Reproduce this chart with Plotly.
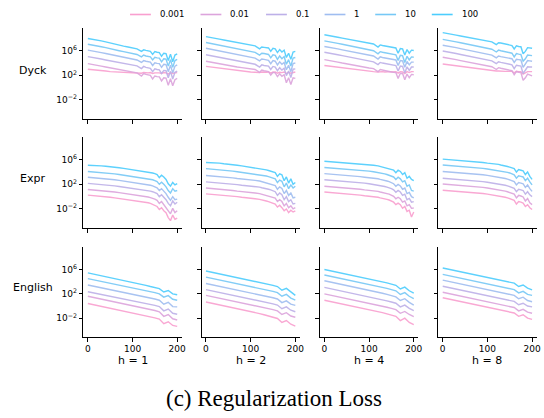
import plotly.graph_objects as go

# ---------------- data ----------------
COEF_LABELS = ["0.001", "0.01", "0.1", "1", "10", "100"]
TASKS = ["Dyck", "Expr", "English"]
HEADS = ["h = 1", "h = 2", "h = 4", "h = 8"]

STEPS_FINE = [0, 10, 20, 30, 40, 50, 60, 70, 80, 90, 100, 110, 120, 125, 130, 135, 140,
              145, 150, 155, 160, 165, 170, 175, 180, 185, 190, 195, 200]
STEPS_ENG = [0, 10, 20, 30, 40, 50, 60, 70, 80, 90, 100, 110, 120, 130, 140, 150, 160,
             170, 180, 190, 200]

Y_TICK_VALS = [1e-2, 1e2, 1e6]
Y_TICK_TEXT = ["10<sup>\u22122</sup>", "10<sup>2</sup>", "10<sup>6</sup>"]
X_TICK_VALS = [0, 100, 200]
X_TICK_TEXT = ["0", "100", "200"]

# log10 of regularization loss, series order: 0.001, 0.01, 0.1, 1, 10, 100
dyck_h1 = [
    [3.0, 2.95, 2.85, 2.75, 2.7, 2.6, 2.55, 2.5, 2.45, 2.45, 2.4, 2.4, 2.35, 2.45, 2.4, 2.4, 2.45, 2.3, 2.4, 2.45, 2.4, 2.3, 2.45, 2.4, 2.2, 2.45, 2.3, 2.4, 2.45],
    [3.9, 3.8, 3.65, 3.5, 3.35, 3.2, 3.05, 2.9, 2.8, 2.65, 2.55, 2.4, 1.9, 2.3, 2.15, 2.05, 2.0, 1.4, 1.9, 1.8, 1.75, 1.1, 1.6, 1.55, 0.4, 1.45, 0.3, 1.3, 1.5],
    [5.05, 4.95, 4.8, 4.65, 4.5, 4.35, 4.2, 4.05, 3.9, 3.8, 3.7, 3.55, 3.1, 3.45, 3.3, 3.2, 3.15, 2.6, 3.05, 2.95, 2.9, 2.3, 2.8, 2.75, 1.6, 2.65, 1.4, 2.5, 2.7],
    [6.1, 6.0, 5.85, 5.7, 5.55, 5.4, 5.25, 5.1, 4.95, 4.8, 4.65, 4.5, 4.1, 4.4, 4.3, 4.2, 4.15, 3.6, 4.05, 3.95, 3.9, 3.3, 3.8, 3.75, 2.6, 3.65, 2.4, 3.5, 3.7],
    [7.05, 6.95, 6.8, 6.65, 6.5, 6.3, 6.15, 6.0, 5.85, 5.7, 5.5, 5.4, 5.0, 5.3, 5.15, 5.05, 5.0, 4.5, 4.95, 4.85, 4.8, 4.2, 4.7, 4.65, 3.5, 4.55, 3.3, 4.4, 4.6],
    [8.0, 7.9, 7.75, 7.6, 7.45, 7.25, 7.1, 6.95, 6.75, 6.6, 6.4, 6.3, 5.9, 6.15, 6.05, 5.95, 5.9, 5.4, 5.85, 5.75, 5.7, 5.1, 5.6, 5.55, 4.4, 5.45, 4.2, 5.3, 5.5],
]
dyck_h2 = [
    [3.45, 3.35, 3.25, 3.15, 3.05, 2.95, 2.85, 2.75, 2.65, 2.6, 2.55, 2.5, 2.45, 2.55, 2.5, 2.5, 2.55, 2.4, 2.5, 2.55, 2.35, 2.5, 2.45, 2.55, 2.3, 2.5, 2.35, 2.5, 2.55],
    [4.3, 4.15, 4.0, 3.85, 3.7, 3.55, 3.45, 3.35, 3.25, 3.15, 3.05, 2.95, 2.5, 2.85, 2.75, 2.65, 2.6, 2.05, 2.5, 2.4, 1.8, 2.25, 1.85, 2.1, 0.8, 1.6, 0.5, 1.6, 1.5],
    [5.35, 5.2, 5.05, 4.9, 4.75, 4.6, 4.45, 4.3, 4.15, 4.0, 3.9, 3.8, 3.35, 3.7, 3.6, 3.55, 3.5, 2.95, 3.45, 3.35, 2.75, 3.25, 2.85, 3.15, 1.95, 2.7, 1.65, 3.0, 3.05],
    [6.4, 6.25, 6.1, 5.95, 5.8, 5.65, 5.5, 5.35, 5.2, 5.05, 4.95, 4.8, 4.35, 4.65, 4.6, 4.5, 4.45, 3.9, 4.4, 4.3, 3.7, 4.2, 3.8, 4.1, 2.9, 3.65, 2.6, 3.9, 4.0],
    [7.35, 7.2, 7.05, 6.9, 6.75, 6.6, 6.45, 6.3, 6.15, 6.0, 5.85, 5.75, 5.3, 5.6, 5.55, 5.45, 5.4, 4.85, 5.35, 5.25, 4.6, 5.15, 4.7, 5.05, 3.8, 4.55, 3.5, 4.8, 4.9],
    [8.3, 8.2, 8.05, 7.9, 7.75, 7.6, 7.45, 7.3, 7.15, 7.0, 6.9, 6.8, 6.3, 6.6, 6.55, 6.5, 6.45, 5.9, 6.4, 6.3, 5.7, 6.2, 5.8, 6.1, 4.9, 5.6, 4.6, 5.8, 5.9],
]
dyck_h4 = [
    [3.6, 3.5, 3.4, 3.3, 3.2, 3.1, 3.0, 2.9, 2.8, 2.7, 2.65, 2.6, 2.55, 2.6, 2.6, 2.55, 2.6, 2.55, 2.6, 2.55, 2.6, 2.35, 2.6, 2.55, 2.3, 2.6, 2.45, 2.6, 2.6],
    [4.55, 4.45, 4.3, 4.15, 4.0, 3.85, 3.7, 3.55, 3.45, 3.3, 3.2, 3.1, 2.6, 2.95, 2.85, 2.8, 2.7, 2.6, 2.55, 2.5, 2.45, 1.5, 2.35, 2.3, 1.3, 2.2, 1.6, 2.15, 2.1],
    [5.75, 5.65, 5.5, 5.35, 5.2, 5.05, 4.9, 4.75, 4.6, 4.45, 4.35, 4.2, 3.75, 4.1, 4.0, 3.95, 3.85, 3.75, 3.7, 3.65, 3.6, 2.7, 3.5, 3.45, 2.4, 3.4, 2.8, 3.35, 3.35],
    [6.7, 6.6, 6.45, 6.3, 6.15, 6.0, 5.85, 5.7, 5.55, 5.4, 5.3, 5.15, 4.65, 5.0, 4.9, 4.85, 4.75, 4.65, 4.6, 4.55, 4.5, 3.6, 4.4, 4.35, 3.3, 4.25, 3.7, 4.15, 4.15],
    [7.6, 7.5, 7.35, 7.2, 7.05, 6.9, 6.75, 6.6, 6.45, 6.3, 6.15, 6.0, 5.5, 5.85, 5.75, 5.7, 5.6, 5.5, 5.45, 5.4, 5.35, 4.4, 5.25, 5.2, 4.1, 5.1, 4.5, 5.0, 4.95],
    [8.6, 8.5, 8.35, 8.2, 8.05, 7.9, 7.75, 7.6, 7.45, 7.35, 7.25, 7.1, 6.6, 6.95, 6.85, 6.8, 6.7, 6.6, 6.55, 6.5, 6.45, 5.6, 6.35, 6.3, 5.3, 6.2, 5.6, 6.1, 6.05],
]
dyck_h8 = [
    [3.85, 3.75, 3.65, 3.55, 3.45, 3.35, 3.25, 3.1, 3.0, 2.9, 2.8, 2.75, 2.7, 2.7, 2.65, 2.7, 2.65, 2.65, 2.6, 2.65, 2.4, 2.65, 2.6, 2.6, 2.2, 2.4, 2.6, 2.6, 2.6],
    [4.95, 4.85, 4.7, 4.55, 4.4, 4.25, 4.1, 3.95, 3.8, 3.7, 3.55, 3.4, 2.95, 3.25, 3.15, 3.05, 3.0, 2.9, 2.8, 2.75, 2.1, 2.6, 2.5, 2.45, 1.2, 1.6, 2.2, 2.0, 1.9],
    [5.95, 5.85, 5.7, 5.55, 5.4, 5.25, 5.1, 4.95, 4.8, 4.65, 4.5, 4.35, 3.9, 4.2, 4.1, 4.05, 3.95, 3.85, 3.8, 3.7, 3.1, 3.65, 3.55, 3.5, 2.3, 2.8, 3.4, 3.35, 3.35],
    [6.9, 6.8, 6.65, 6.5, 6.35, 6.2, 6.05, 5.9, 5.75, 5.6, 5.45, 5.3, 4.85, 5.15, 5.05, 5.0, 4.9, 4.8, 4.75, 4.7, 4.1, 4.6, 4.55, 4.5, 3.3, 3.8, 4.4, 4.35, 4.3],
    [7.85, 7.75, 7.6, 7.45, 7.3, 7.15, 7.0, 6.85, 6.7, 6.55, 6.4, 6.25, 5.8, 6.1, 6.0, 5.9, 5.85, 5.75, 5.7, 5.6, 5.0, 5.55, 5.45, 5.4, 4.3, 4.7, 5.3, 5.25, 5.2],
    [8.95, 8.85, 8.7, 8.55, 8.4, 8.25, 8.1, 7.95, 7.8, 7.7, 7.6, 7.45, 7.0, 7.3, 7.25, 7.15, 7.1, 7.0, 6.95, 6.85, 6.3, 6.8, 6.7, 6.65, 5.5, 5.9, 6.5, 6.45, 6.4],
]
expr_h1 = [
    [0.25, 0.2, 0.15, 0.05, 0.0, -0.1, -0.2, -0.3, -0.4, -0.5, -0.55, -0.65, -0.75, -0.85, -0.9, -1.0, -1.1, -1.25, -1.4, -1.6, -2.1, -1.8, -2.3, -2.6, -3.4, -3.9, -3.0, -3.7, -3.5],
    [1.15, 1.1, 1.05, 1.0, 0.9, 0.85, 0.75, 0.65, 0.55, 0.5, 0.4, 0.3, 0.2, 0.1, 0.05, -0.05, -0.15, -0.25, -0.4, -0.6, -1.1, -0.8, -1.3, -1.6, -2.3, -2.8, -1.9, -2.6, -2.3],
    [2.15, 2.1, 2.05, 2.0, 1.9, 1.85, 1.75, 1.65, 1.55, 1.5, 1.4, 1.3, 1.2, 1.15, 1.05, 1.0, 0.9, 0.8, 0.65, 0.5, 0.0, 0.3, -0.1, -0.5, -1.1, -1.5, -0.7, -1.2, -0.9],
    [3.15, 3.1, 3.05, 3.0, 2.9, 2.85, 2.75, 2.65, 2.55, 2.45, 2.35, 2.25, 2.15, 2.1, 2.0, 1.95, 1.85, 1.75, 1.6, 1.45, 1.0, 1.3, 0.9, 0.5, -0.1, -0.6, 0.0, -0.5, -0.4],
    [4.1, 4.05, 4.0, 3.95, 3.9, 3.8, 3.7, 3.6, 3.5, 3.4, 3.3, 3.2, 3.1, 3.05, 3.0, 2.9, 2.85, 2.75, 2.6, 2.45, 2.0, 2.35, 2.0, 1.6, 1.0, 0.6, 1.3, 0.9, 1.0],
    [5.1, 5.1, 5.05, 5.0, 4.95, 4.9, 4.8, 4.7, 4.6, 4.5, 4.4, 4.3, 4.2, 4.15, 4.1, 4.05, 3.95, 3.85, 3.75, 3.6, 3.1, 3.5, 3.2, 2.8, 2.1, 1.7, 2.3, 1.9, 2.1],
]
expr_h2 = [
    [0.45, 0.4, 0.35, 0.3, 0.2, 0.15, 0.05, 0.0, -0.1, -0.15, -0.25, -0.35, -0.45, -0.5, -0.6, -0.7, -0.8, -0.9, -1.0, -1.2, -1.7, -1.4, -1.8, -2.3, -2.0, -2.6, -2.2, -2.5, -2.3],
    [1.4, 1.35, 1.3, 1.25, 1.15, 1.1, 1.0, 0.9, 0.85, 0.75, 0.7, 0.6, 0.5, 0.4, 0.35, 0.25, 0.15, 0.05, -0.1, -0.25, -0.8, -0.5, -0.8, -1.5, -1.1, -1.8, -1.5, -2.0, -1.8],
    [2.4, 2.35, 2.3, 2.25, 2.15, 2.1, 2.0, 1.95, 1.85, 1.8, 1.75, 1.65, 1.55, 1.45, 1.4, 1.3, 1.2, 1.1, 0.95, 0.8, 0.2, 0.6, 0.3, -0.5, 0.0, -0.8, -0.5, -1.2, -1.1],
    [3.45, 3.4, 3.35, 3.3, 3.2, 3.15, 3.05, 2.95, 2.9, 2.8, 2.75, 2.65, 2.55, 2.45, 2.4, 2.3, 2.2, 2.1, 1.95, 1.8, 1.2, 1.6, 1.35, 0.5, 1.0, 0.2, 0.6, -0.2, -0.1],
    [4.55, 4.5, 4.45, 4.4, 4.3, 4.25, 4.15, 4.05, 3.95, 3.9, 3.8, 3.7, 3.6, 3.5, 3.45, 3.35, 3.25, 3.15, 3.05, 2.9, 2.3, 2.7, 2.5, 1.6, 2.2, 1.3, 1.9, 1.4, 1.7],
    [5.55, 5.55, 5.5, 5.45, 5.35, 5.3, 5.2, 5.1, 5.0, 4.9, 4.8, 4.7, 4.6, 4.5, 4.45, 4.35, 4.25, 4.15, 4.05, 3.9, 3.3, 3.7, 3.55, 2.6, 3.2, 2.2, 2.9, 2.0, 2.3],
]
expr_h4 = [
    [0.75, 0.7, 0.65, 0.6, 0.5, 0.45, 0.4, 0.3, 0.25, 0.15, 0.1, 0.0, -0.1, -0.2, -0.25, -0.35, -0.45, -0.55, -0.7, -0.9, -1.3, -1.05, -1.3, -1.9, -1.6, -2.4, -2.2, -3.3, -2.5],
    [1.7, 1.65, 1.6, 1.55, 1.45, 1.4, 1.35, 1.25, 1.2, 1.1, 1.05, 0.95, 0.85, 0.75, 0.7, 0.6, 0.5, 0.4, 0.25, 0.05, -0.35, -0.1, -0.35, -0.9, -0.7, -1.5, -1.3, -1.9, -1.85],
    [2.75, 2.7, 2.65, 2.6, 2.55, 2.5, 2.4, 2.35, 2.25, 2.2, 2.1, 2.0, 1.9, 1.85, 1.75, 1.65, 1.55, 1.45, 1.3, 1.1, 0.7, 1.0, 0.75, 0.2, 0.4, -0.5, -0.3, -0.9, -0.8],
    [3.75, 3.7, 3.65, 3.6, 3.5, 3.45, 3.4, 3.3, 3.25, 3.15, 3.1, 3.0, 2.9, 2.8, 2.75, 2.65, 2.55, 2.45, 2.3, 2.1, 1.7, 2.0, 1.75, 1.2, 1.4, 0.5, 0.7, 0.0, -0.2],
    [4.75, 4.7, 4.65, 4.6, 4.55, 4.5, 4.4, 4.35, 4.3, 4.2, 4.15, 4.05, 3.95, 3.85, 3.8, 3.7, 3.6, 3.5, 3.4, 3.2, 2.8, 3.15, 2.9, 2.4, 2.6, 1.7, 1.9, 1.0, 0.9],
    [5.75, 5.7, 5.65, 5.6, 5.55, 5.5, 5.4, 5.35, 5.3, 5.25, 5.2, 5.1, 5.0, 4.9, 4.85, 4.75, 4.7, 4.6, 4.5, 4.3, 3.9, 4.3, 4.1, 3.6, 3.9, 3.0, 3.3, 2.8, 2.6],
]
expr_h8 = [
    [1.05, 1.0, 0.95, 0.9, 0.85, 0.8, 0.7, 0.65, 0.55, 0.5, 0.4, 0.3, 0.2, 0.15, 0.05, 0.0, -0.1, -0.2, -0.3, -0.45, -0.6, -1.2, -0.8, -0.9, -1.05, -1.6, -1.3, -1.8, -2.1],
    [2.05, 2.0, 1.95, 1.9, 1.85, 1.8, 1.7, 1.65, 1.55, 1.5, 1.4, 1.3, 1.2, 1.15, 1.05, 1.0, 0.9, 0.8, 0.7, 0.55, 0.4, -0.2, 0.2, 0.1, -0.05, -0.7, -0.3, -1.0, -1.3],
    [3.0, 2.95, 2.9, 2.85, 2.8, 2.75, 2.65, 2.6, 2.5, 2.45, 2.35, 2.25, 2.15, 2.1, 2.0, 1.95, 1.85, 1.75, 1.65, 1.5, 1.35, 0.8, 1.2, 1.1, 1.0, 0.4, 0.8, 0.3, 0.0],
    [4.1, 4.05, 4.0, 3.95, 3.9, 3.85, 3.75, 3.7, 3.6, 3.55, 3.45, 3.35, 3.25, 3.2, 3.1, 3.05, 2.95, 2.85, 2.75, 2.6, 2.45, 1.9, 2.3, 2.2, 2.1, 1.5, 1.9, 1.3, 0.85],
    [5.15, 5.1, 5.05, 5.0, 4.95, 4.9, 4.8, 4.75, 4.65, 4.6, 4.5, 4.4, 4.3, 4.25, 4.2, 4.1, 4.0, 3.95, 3.85, 3.7, 3.55, 3.0, 3.4, 3.3, 3.2, 2.6, 3.0, 2.4, 1.9],
    [6.1, 6.05, 6.0, 5.95, 5.9, 5.85, 5.8, 5.7, 5.65, 5.55, 5.45, 5.4, 5.3, 5.25, 5.15, 5.1, 5.0, 4.9, 4.8, 4.7, 4.55, 4.0, 4.4, 4.3, 4.2, 3.6, 4.0, 3.3, 2.8],
]
english_h1 = [
    [0.4, 0.25, 0.1, -0.05, -0.2, -0.35, -0.5, -0.65, -0.8, -0.95, -1.1, -1.25, -1.45, -1.6, -1.8, -1.95, -2.15, -2.9, -2.6, -3.2, -3.35],
    [1.6, 1.45, 1.3, 1.15, 1.0, 0.85, 0.7, 0.55, 0.4, 0.25, 0.1, -0.05, -0.25, -0.4, -0.6, -0.75, -0.95, -1.7, -1.4, -2.1, -2.3],
    [2.35, 2.2, 2.05, 1.9, 1.75, 1.6, 1.45, 1.3, 1.2, 1.05, 0.95, 0.8, 0.6, 0.45, 0.25, 0.1, -0.1, -0.8, -0.5, -1.2, -1.35],
    [3.45, 3.3, 3.15, 3.0, 2.85, 2.7, 2.55, 2.4, 2.25, 2.1, 2.0, 1.85, 1.65, 1.5, 1.3, 1.15, 0.95, 0.3, 0.6, -0.1, -0.15],
    [4.5, 4.35, 4.2, 4.05, 3.9, 3.75, 3.6, 3.45, 3.3, 3.15, 3.05, 2.9, 2.7, 2.55, 2.35, 2.2, 2.0, 1.45, 1.7, 1.1, 0.95],
    [5.45, 5.3, 5.15, 5.0, 4.85, 4.7, 4.55, 4.4, 4.2, 4.05, 3.9, 3.75, 3.55, 3.4, 3.2, 3.05, 2.85, 2.3, 2.55, 2.0, 1.85],
]
english_h2 = [
    [0.65, 0.5, 0.35, 0.2, 0.05, -0.1, -0.25, -0.4, -0.6, -0.75, -0.9, -1.05, -1.25, -1.45, -1.65, -1.85, -2.05, -2.7, -2.4, -3.0, -3.3],
    [1.75, 1.6, 1.45, 1.3, 1.15, 1.0, 0.85, 0.7, 0.55, 0.4, 0.25, 0.1, -0.1, -0.25, -0.45, -0.6, -0.8, -1.4, -1.1, -1.65, -1.85],
    [2.7, 2.55, 2.4, 2.25, 2.1, 1.95, 1.8, 1.65, 1.5, 1.35, 1.2, 1.05, 0.85, 0.7, 0.5, 0.35, 0.15, -0.45, -0.15, -0.7, -0.95],
    [3.7, 3.55, 3.4, 3.25, 3.1, 2.95, 2.8, 2.65, 2.5, 2.35, 2.2, 2.05, 1.85, 1.7, 1.5, 1.35, 1.15, 0.55, 0.85, 0.3, 0.1],
    [4.75, 4.6, 4.45, 4.3, 4.15, 4.0, 3.85, 3.7, 3.55, 3.4, 3.25, 3.1, 2.9, 2.75, 2.55, 2.4, 2.2, 1.6, 1.9, 1.3, 0.95],
    [5.75, 5.6, 5.45, 5.3, 5.15, 5.0, 4.85, 4.7, 4.55, 4.4, 4.25, 4.1, 3.9, 3.75, 3.55, 3.4, 3.2, 2.6, 2.9, 2.3, 1.75],
]
english_h4 = [
    [0.95, 0.8, 0.65, 0.5, 0.35, 0.2, 0.05, -0.1, -0.25, -0.4, -0.55, -0.7, -0.9, -1.1, -1.3, -1.5, -1.7, -2.4, -2.0, -2.7, -3.05],
    [2.0, 1.85, 1.7, 1.55, 1.4, 1.25, 1.1, 0.95, 0.8, 0.65, 0.5, 0.35, 0.15, 0.0, -0.2, -0.4, -0.6, -1.2, -0.9, -1.4, -1.75],
    [3.05, 2.9, 2.75, 2.6, 2.45, 2.3, 2.15, 2.0, 1.85, 1.7, 1.55, 1.4, 1.2, 1.05, 0.85, 0.65, 0.45, -0.15, 0.15, -0.4, -0.75],
    [4.15, 4.0, 3.85, 3.7, 3.55, 3.4, 3.25, 3.1, 2.95, 2.8, 2.65, 2.5, 2.3, 2.1, 1.9, 1.7, 1.5, 0.9, 1.2, 0.6, 0.15],
    [5.1, 4.95, 4.8, 4.65, 4.5, 4.35, 4.2, 4.05, 3.9, 3.75, 3.6, 3.45, 3.25, 3.1, 2.9, 2.7, 2.5, 1.9, 2.2, 1.6, 1.2],
    [6.0, 5.85, 5.7, 5.55, 5.4, 5.25, 5.1, 4.95, 4.8, 4.65, 4.5, 4.35, 4.15, 4.0, 3.8, 3.6, 3.4, 2.8, 3.1, 2.5, 2.1],
]
english_h8 = [
    [1.35, 1.2, 1.05, 0.9, 0.75, 0.6, 0.45, 0.3, 0.15, 0.0, -0.15, -0.3, -0.45, -0.6, -0.8, -0.95, -1.15, -1.7, -1.45, -2.0, -2.2],
    [2.25, 2.1, 1.95, 1.8, 1.65, 1.5, 1.35, 1.2, 1.05, 0.9, 0.75, 0.6, 0.45, 0.3, 0.1, -0.05, -0.25, -0.8, -0.55, -1.0, -1.2],
    [3.25, 3.1, 2.95, 2.8, 2.65, 2.5, 2.35, 2.2, 2.05, 1.9, 1.75, 1.6, 1.45, 1.3, 1.1, 0.95, 0.75, 0.2, 0.45, 0.0, -0.15],
    [4.25, 4.1, 3.95, 3.8, 3.65, 3.5, 3.35, 3.2, 3.05, 2.9, 2.75, 2.6, 2.45, 2.3, 2.1, 1.95, 1.75, 1.2, 1.45, 0.9, 0.7],
    [5.2, 5.05, 4.9, 4.75, 4.6, 4.45, 4.3, 4.15, 4.0, 3.85, 3.7, 3.55, 3.4, 3.25, 3.05, 2.9, 2.7, 2.15, 2.4, 1.9, 1.75],
    [6.25, 6.1, 5.95, 5.8, 5.65, 5.5, 5.35, 5.2, 5.05, 4.9, 4.75, 4.6, 4.45, 4.3, 4.1, 3.95, 3.75, 3.2, 3.45, 2.95, 2.65],
]

PANELS = [
    [dyck_h1, dyck_h2, dyck_h4, dyck_h8],
    [expr_h1, expr_h2, expr_h4, expr_h8],
    [english_h1, english_h2, english_h4, english_h8],
]
ROW_STEPS = [STEPS_FINE, STEPS_FINE, STEPS_ENG]

# ---------------- style ----------------
W, H = 544, 418
COLORS = ["#f99fcf", "#dca4dc", "#bdb0e8", "#9fbdf0", "#76c8f6", "#4ccdfd"]
FONT = "DejaVu Sans"
COL_PX = [(84, 183), (203, 302), (322.3, 421.3), (441.5, 540.5)]
ROW_PX = [(28, 119), (137, 228), (247, 337)]
Y_RANGE = [-5.1, 9.7]
X_RANGE = [-10, 210]


def px_x(x):
    return x / W


def px_y(y):
    return 1 - y / H


fig = go.Figure()
layout = dict(
    width=W, height=H,
    margin=dict(l=0, r=0, t=0, b=0),
    paper_bgcolor="white", plot_bgcolor="white",
    showlegend=False,
    font=dict(family=FONT, size=9, color="black"),
)

annotations = []
shapes = []

for r in range(3):
    for c in range(4):
        n = r * 4 + c + 1
        xa = "x" if n == 1 else f"x{n}"
        ya = "y" if n == 1 else f"y{n}"
        steps = ROW_STEPS[r]
        for k, series in enumerate(PANELS[r][c]):
            fig.add_trace(go.Scatter(
                x=steps, y=[10 ** v for v in series],
                mode="lines", name=COEF_LABELS[k],
                line=dict(color=COLORS[k], width=1.4),
                opacity=0.9,
                xaxis=xa, yaxis=ya, showlegend=False,
            ))
        x0, x1 = COL_PX[c]
        y0, y1 = ROW_PX[r]
        layout["xaxis" if n == 1 else f"xaxis{n}"] = dict(
            domain=[px_x(x0), px_x(x1)], anchor=ya, range=X_RANGE,
            tickvals=X_TICK_VALS, ticktext=X_TICK_TEXT,
            showticklabels=(r == 2), ticks="outside", ticklen=3.5, tickwidth=0.8,
            tickcolor="black", showline=True, linecolor="black", linewidth=1,
            showgrid=False, zeroline=False, tickfont=dict(size=9, family=FONT),
        )
        layout["yaxis" if n == 1 else f"yaxis{n}"] = dict(
            domain=[px_y(y1), px_y(y0)], anchor=xa, type="log", range=Y_RANGE,
            tickvals=Y_TICK_VALS, ticktext=Y_TICK_TEXT,
            showticklabels=(c == 0), ticks="outside", ticklen=3.5, tickwidth=0.8,
            tickcolor="black", showline=True, linecolor="black", linewidth=1,
            showgrid=False, zeroline=False, tickfont=dict(size=9, family=FONT),
        )

# row labels
ROW_LABEL_Y = [70, 179, 287]
for r, name in enumerate(TASKS):
    annotations.append(dict(text=name, x=px_x(33), y=px_y(ROW_LABEL_Y[r]), xref="paper", yref="paper",
                            showarrow=False, xanchor="center", yanchor="middle",
                            font=dict(size=11, family=FONT, color="black")))
# column labels
for c, name in enumerate(HEADS):
    xc = (COL_PX[c][0] + COL_PX[c][1]) / 2
    annotations.append(dict(text=name, x=px_x(xc), y=px_y(360), xref="paper", yref="paper",
                            showarrow=False, xanchor="center", yanchor="middle",
                            font=dict(size=11, family=FONT, color="black")))

# legend (drawn manually)
LEG_X = [131, 202, 268, 327, 378, 435]
LEG_Y = 14.5
for k, lab in enumerate(COEF_LABELS):
    shapes.append(dict(type="line", xref="paper", yref="paper",
                       x0=px_x(LEG_X[k]), x1=px_x(LEG_X[k] + 21), y0=px_y(LEG_Y), y1=px_y(LEG_Y),
                       line=dict(color=COLORS[k], width=1.6)))
    annotations.append(dict(text=lab, x=px_x(LEG_X[k] + 28), y=px_y(LEG_Y), xref="paper", yref="paper",
                            showarrow=False, xanchor="left", yanchor="middle",
                            font=dict(size=8.5, family=FONT, color="black")))

# caption
annotations.append(dict(text="(c) Regularization Loss", x=px_x(276.5), y=px_y(398), xref="paper", yref="paper",
                        showarrow=False, xanchor="center", yanchor="middle",
                        font=dict(size=23, family="Liberation Serif", color="black")))

layout["annotations"] = annotations
layout["shapes"] = shapes
fig.update_layout(**layout)
fig.write_html("out.html",
               config={"displayModeBar": False},
               post_script="document.body.style.margin='0';document.body.style.padding='0';")
